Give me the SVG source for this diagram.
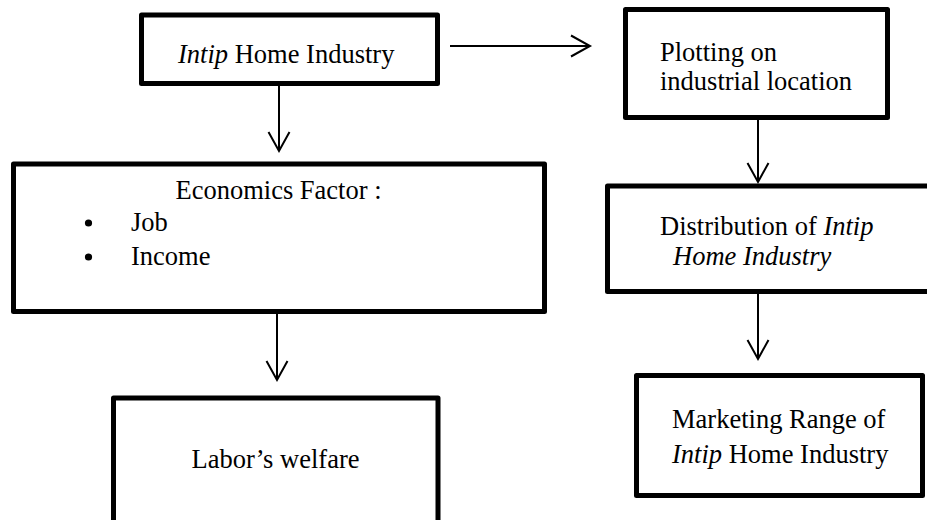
<svg xmlns="http://www.w3.org/2000/svg" width="927" height="520" viewBox="0 0 927 520">
<defs>
<style>
.box{fill:#fff;stroke:#000;stroke-width:5;stroke-linejoin:round}
text{font-family:'Liberation Serif', 'Tinos', 'Times New Roman', serif;font-size:26.5px;fill:#000}
.c{text-anchor:middle}
.conn{stroke:#000;stroke-width:2;fill:none}
</style>
<marker id="arr" markerUnits="userSpaceOnUse" viewBox="-22 -13 24 26" markerWidth="24" markerHeight="26" refX="0" refY="0" orient="auto" overflow="visible">
<path d="M-19,-10.5 L0,0 L-19,10.5" fill="none" stroke="#000" stroke-width="2"/>
</marker>
</defs>
<rect width="927" height="520" fill="#fff"/>
<g id="connectors">
<line class="conn" x1="450" y1="46" x2="590" y2="46" marker-end="url(#arr)"/>
<line class="conn" x1="279" y1="86" x2="279" y2="151" marker-end="url(#arr)"/>
<line class="conn" x1="277" y1="314" x2="277" y2="380" marker-end="url(#arr)"/>
<line class="conn" x1="758" y1="120" x2="758" y2="182" marker-end="url(#arr)"/>
<line class="conn" x1="758" y1="294" x2="758" y2="359" marker-end="url(#arr)"/>
</g>
<g id="node-intip">
<rect class="box" x="141.5" y="15" width="296" height="68.5"/>
<text x="178" y="63"><tspan font-style="italic">Intip</tspan> Home Industry</text>
</g>
<g id="node-economics">
<rect class="box" x="13.5" y="164" width="531" height="147.5"/>
<text class="c" x="278.5" y="199">Economics Factor :</text>
<circle cx="88.5" cy="223" r="3.6" fill="#000"/>
<text x="131" y="231">Job</text>
<circle cx="88.5" cy="257" r="3.6" fill="#000"/>
<text x="131" y="265">Income</text>
</g>
<g id="node-labor">
<rect class="box" x="113.5" y="398" width="324.5" height="140"/>
<text class="c" x="275.5" y="468">Labor’s welfare</text>
</g>
<g id="node-plotting">
<rect class="box" x="625.5" y="9.5" width="262" height="108"/>
<text x="660" y="61">Plotting on</text>
<text x="660" y="90">industrial location</text>
</g>
<g id="node-distribution">
<rect class="box" x="607.5" y="186" width="340" height="105.5"/>
<text x="660" y="235">Distribution of <tspan font-style="italic">Intip</tspan></text>
<text x="673" y="265" font-style="italic">Home Industry</text>
</g>
<g id="node-marketing">
<rect class="box" x="636.5" y="375.5" width="286" height="120"/>
<text x="672" y="428">Marketing Range of</text>
<text x="672" y="463"><tspan font-style="italic">Intip</tspan> Home Industry</text>
</g>
</svg>
